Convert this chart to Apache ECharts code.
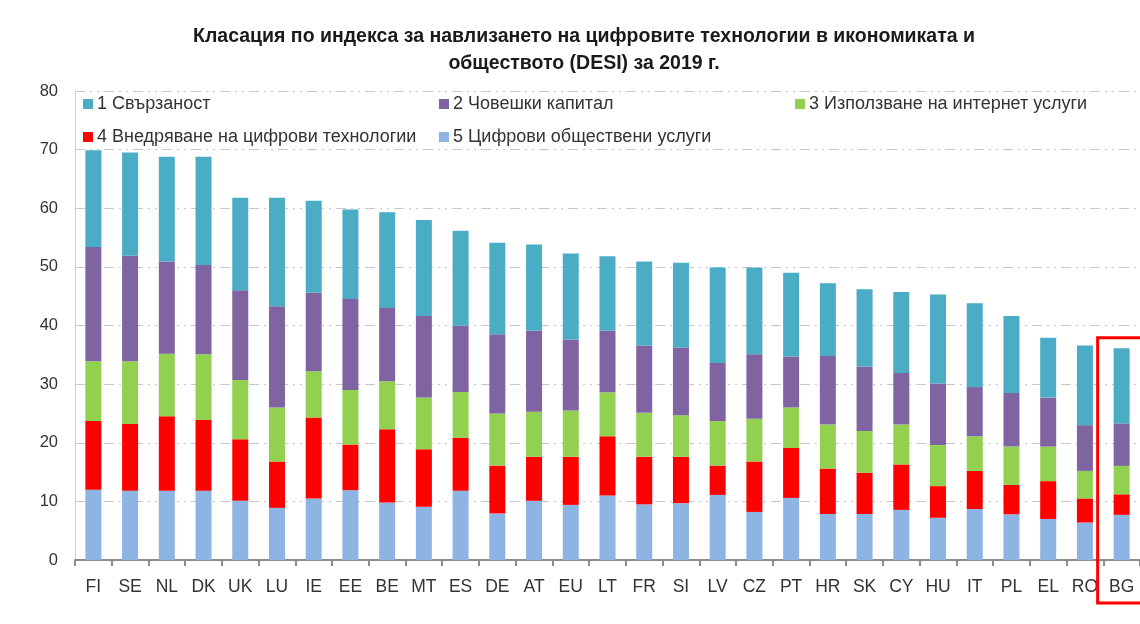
<!DOCTYPE html>
<html>
<head>
<meta charset="utf-8">
<script src="https://cdn.jsdelivr.net/npm/echarts@6/dist/echarts.min.js"></script>
<style>
    html, body { margin: 0; padding: 0; background: #fff; }
    #chart { width: 1140px; height: 624px; }
</style>
</head>
<body>
<div id="chart"></div>
<script>
const categories = ['FI', 'SE', 'NL', 'DK', 'UK', 'LU', 'IE', 'EE', 'BE', 'MT', 'ES', 'DE', 'AT', 'EU', 'LT',
    'FR', 'SI', 'LV', 'CZ', 'PT', 'HR', 'SK', 'CY', 'HU', 'IT', 'PL', 'EL', 'RO', 'BG'];

// 1 Свързаност
const connectivity = [16.5, 17.6, 17.9, 18.5, 15.8, 18.5, 15.7, 15.3, 16.3, 16.4, 16.2, 15.6, 14.7, 14.7, 12.7,
    14.3, 14.5, 16.3, 14.8, 14.3, 12.4, 13.2, 13.8, 15.2, 14.3, 13.1, 10.2, 13.6, 12.8];
// 2 Човешки капитал
const humanCapital = [19.5, 18.0, 15.7, 15.2, 15.3, 17.3, 13.4, 15.5, 12.5, 13.9, 11.3, 13.5, 13.8, 12.1, 10.5,
    11.5, 11.5, 9.9, 11.0, 8.7, 11.7, 11.0, 8.8, 10.5, 8.4, 9.15, 8.35, 7.8, 7.25];
// 3 Използване на интернет услуги
const internetUse = [10.2, 10.7, 10.7, 11.2, 10.1, 9.2, 7.9, 9.3, 8.2, 8.8, 7.8, 8.9, 7.7, 7.9, 7.5,
    7.5, 7.1, 7.6, 7.3, 6.9, 7.5, 7.1, 6.8, 7.0, 5.9, 6.55, 5.9, 4.7, 4.85];
// 4 Внедряване на цифрови технологии
const integration = [11.7, 11.4, 12.7, 12.1, 10.5, 7.9, 13.8, 7.8, 12.5, 9.8, 9.05, 8.15, 7.5, 8.2, 10.1,
    8.1, 7.9, 5.0, 8.6, 8.5, 7.75, 7.05, 7.75, 5.4, 6.5, 5.0, 6.45, 4.1, 3.5];
// 5 Цифрови обществени услуги
const publicServices = [12.0, 11.8, 11.8, 11.8, 10.1, 8.9, 10.5, 11.9, 9.8, 9.1, 11.8, 7.95, 10.1, 9.4, 11.0,
    9.5, 9.7, 11.1, 8.2, 10.6, 7.85, 7.85, 8.55, 7.2, 8.7, 7.8, 7.0, 6.4, 7.7];

const seriesNames = ['1 Свързаност', '2 Човешки капитал', '3 Използване на интернет услуги',
    '4 Внедряване на цифрови технологии', '5 Цифрови обществени услуги'];
const highlighted = 'BG';

const FONT = '"Liberation Sans", Arial, sans-serif';
const TEXT = '#333333';

const makeBar = (name, data, color) => ({
    name: name,
    type: 'bar',
    stack: 'desi',
    barWidth: 16,
    data: data,
    itemStyle: { color: color },
    emphasis: { disabled: true }
});

const makeLegend = (name, left, top) => ({
    data: [name],
    left: left,
    top: top,
    padding: 0,
    itemWidth: 10,
    itemHeight: 10,
    itemGap: 5,
    icon: 'rect',
    selectedMode: false,
    textStyle: { fontFamily: FONT, fontSize: 18, color: TEXT, padding: [0, 0, 0, -1] }
});

const myChart = echarts.init(document.getElementById('chart'), null, { renderer: 'canvas' });

const option = {
    animation: false,
    backgroundColor: '#fff',
    title: {
        text: 'Класация по индекса за навлизането на цифровите технологии в икономиката и\nобществото (DESI) за 2019 г.',
        left: 579,
        textAlign: 'center',
        top: 18,
        textStyle: { fontFamily: FONT, fontSize: 19.5, fontWeight: 'bold', color: '#1a1a1a', lineHeight: 27 }
    },
    legend: [
        makeLegend(seriesNames[0], 83, 95),
        makeLegend(seriesNames[1], 439, 95),
        makeLegend(seriesNames[2], 795, 95),
        makeLegend(seriesNames[3], 83, 128),
        makeLegend(seriesNames[4], 439, 128)
    ],
    grid: { left: 75, right: -4, top: 91, bottom: 64, containLabel: false },
    xAxis: {
        type: 'category',
        data: categories,
        axisLine: { lineStyle: { color: '#8c8c8c', width: 2 } },
        axisTick: { show: true, length: 6, lineStyle: { color: '#8c8c8c', width: 2 } },
        axisLabel: { fontFamily: FONT, fontSize: 17.5, color: TEXT, margin: 18, interval: 0 }
    },
    yAxis: {
        type: 'value',
        min: 0,
        max: 80,
        interval: 10,
        axisLine: { show: true, lineStyle: { color: '#d0d0d0', width: 1 } },
        axisTick: { show: false },
        axisLabel: { fontFamily: FONT, fontSize: 16.5, color: TEXT, margin: 17 },
        splitLine: { lineStyle: { color: '#c8c8c8', width: 1, type: [10, 5, 2, 5, 2, 5] } }
    },
    series: [
        makeBar(seriesNames[4], publicServices, '#8db4e2'),
        makeBar(seriesNames[3], integration, '#ff0000'),
        makeBar(seriesNames[2], internetUse, '#92d050'),
        makeBar(seriesNames[1], humanCapital, '#8064a2'),
        makeBar(seriesNames[0], connectivity, '#4bacc6')
    ]
};

option && myChart.setOption(option);

// red frame around the highlighted country, placed through the chart's own scales
const [frameX, frameTop] = myChart.convertToPixel({ gridIndex: 0 }, [highlighted, 37.9]);
const [, frameBase] = myChart.convertToPixel({ gridIndex: 0 }, [highlighted, 0]);
myChart.setOption({
    graphic: [{
        type: 'rect',
        shape: { x: frameX - 24, y: frameTop, width: 52, height: frameBase - frameTop + 43 },
        style: { fill: 'none', stroke: '#ff0000', lineWidth: 3 },
        silent: true,
        z: 100
    }]
});
</script>
</body>
</html>
